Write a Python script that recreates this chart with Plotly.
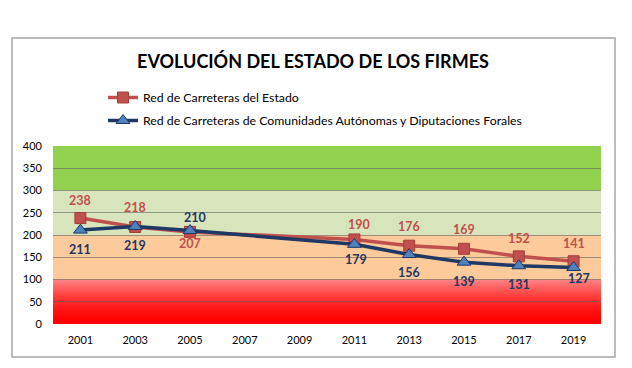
import plotly.graph_objects as go

years = ["2001", "2003", "2005", "2007", "2009", "2011", "2013", "2015", "2017", "2019"]
estado = [238, 218, 207, None, None, 190, 176, 169, 152, 141]
autonomicas = [211, 219, 210, None, None, 179, 156, 139, 131, 127]
name_estado = "Red de Carreteras del Estado"
name_auto = "Red de Carreteras de Comunidades Autónomas y Diputaciones Forales"
title_text = "EVOLUCIÓN DEL ESTADO DE LOS FIRMES"
y_ticks = [0, 50, 100, 150, 200, 250, 300, 350, 400]

# label placement (style): +1 above, -1 below; pixel offsets
estado_dir = [1, 1, -1, 0, 0, 1, 1, 1, 1, 1]
estado_off = [18, 19, 12, 0, 0, 15, 19, 19, 18, 18]
estado_dx = [0, 0, 0, 0, 0, 5, 0, 0, 0, 0]
auto_dir = [-1, -1, 1, 0, 0, -1, -1, -1, -1, -1]
auto_off = [19, 19, 13, 0, 0, 15, 18, 19, 19, 11]
auto_dx = [0, 0, 5, 0, 0, 2, 0, 0, 0, 5]

RED = "#c0504d"
NAVY = "#1f3864"
FONT = "Lato"

fig = go.Figure()
fig.add_trace(go.Scatter(
    x=years, y=estado, name=name_estado, mode="lines+markers", connectgaps=True,
    line=dict(color=RED, width=3.5),
    marker=dict(symbol="square", size=11, color=RED, line=dict(color="#a33e3b", width=1)),
    legendgroup="a",
))
fig.add_trace(go.Scatter(
    x=years, y=autonomicas, name=name_auto, mode="lines+markers", connectgaps=True,
    line=dict(color=NAVY, width=3.5),
    marker=dict(symbol="triangle-up", size=12, color="#4f81bd", line=dict(color=NAVY, width=1)),
    legendgroup="b",
))

shapes = []
# background bands: red gradient built from overlapping strips
n = 40
for i in range(n):
    t0 = i / n
    t = (i + 0.5) / n
    f = t ** 1.6
    g = int(0 + 135 * f)
    shapes.append(dict(type="rect", xref="paper", yref="y", x0=0, x1=1,
                       y0=100 * t0, y1=100,
                       fillcolor=f"rgb(255,{g},{g})", line=dict(width=0), layer="below"))
shapes.append(dict(type="rect", xref="paper", yref="y", x0=0, x1=1, y0=100, y1=200,
                   fillcolor="#fdca9b", line=dict(width=0), layer="below"))
shapes.append(dict(type="rect", xref="paper", yref="y", x0=0, x1=1, y0=200, y1=300,
                   fillcolor="#d8e4bc", line=dict(width=0), layer="below"))
shapes.append(dict(type="rect", xref="paper", yref="y", x0=0, x1=1, y0=300, y1=400,
                   fillcolor="#92d050", line=dict(width=0), layer="below"))
# outer chart border
shapes.append(dict(type="rect", xref="paper", yref="paper",
                   x0=(12 - 53) / 548, x1=(615 - 53) / 548,
                   y0=(324 - 357) / 178, y1=(324 - 38) / 178,
                   line=dict(color="#a6a6a6", width=1.5), layer="below"))

annotations = []
for i, yr in enumerate(years):
    if estado[i] is not None:
        annotations.append(dict(x=i, y=estado[i], xref="x", yref="y",
                                text=f"<b>{estado[i]}</b>", showarrow=False,
                                yshift=estado_dir[i] * estado_off[i], xshift=estado_dx[i],
                                font=dict(family=FONT, size=12.5, color=RED)))
    if autonomicas[i] is not None:
        annotations.append(dict(x=i, y=autonomicas[i], xref="x", yref="y",
                                text=f"<b>{autonomicas[i]}</b>", showarrow=False,
                                yshift=auto_dir[i] * auto_off[i], xshift=auto_dx[i],
                                font=dict(family=FONT, size=12.5, color=NAVY)))

fig.update_layout(
    width=632, height=368,
    margin=dict(l=53, r=31, t=146, b=44),
    paper_bgcolor="white", plot_bgcolor="white",
    font=dict(family=FONT, size=11, color="#000000"),
    title=dict(text=f"<b>{title_text}</b>", x=313 / 632, xanchor="center",
               y=1 - 62 / 368, yanchor="middle",
               font=dict(family=FONT, size=18, color="#000000")),
    showlegend=True,
    legend=dict(x=(103 - 53) / 548, y=(324 - 83) / 178, xanchor="left", yanchor="top",
                bgcolor="rgba(0,0,0,0)", font=dict(family=FONT, size=12.3, color="#000000"),
                tracegroupgap=4, itemwidth=30),
    shapes=shapes,
    annotations=annotations,
)
fig.update_xaxes(type="category", range=[-0.5, 9.5], showgrid=False, zeroline=False,
                 ticks="", ticklabelstandoff=8, tickfont=dict(size=11))
fig.update_yaxes(range=[0, 400], tickvals=y_ticks, showgrid=True,
                 gridcolor="rgba(90,90,90,0.55)", gridwidth=1, zeroline=False,
                 ticks="", ticklabelstandoff=10, tickfont=dict(size=11))

fig.write_html("out.html", config={"displayModeBar": False},
               post_script="document.body.style.margin='0px';")
